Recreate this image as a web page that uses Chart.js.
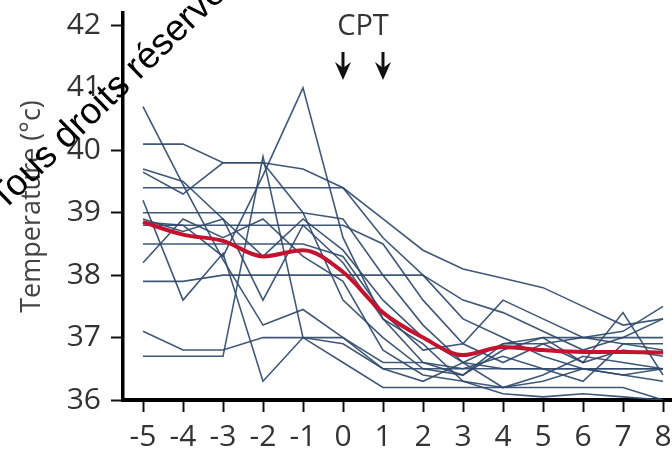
<!DOCTYPE html>
<html lang="fr">
<head>
<meta charset="utf-8" />
<title>Temperature</title>
<style>
    html, body { margin: 0; padding: 0; background: #fff; overflow: hidden; }
    #wrap { width: 700px; height: 453px; }
</style>
</head>
<body>
<div id="wrap"><canvas id="tempChart" width="700" height="453"></canvas></div>
<script src="https://cdn.jsdelivr.net/npm/chart.js@4.4.1/dist/chart.umd.min.js"></script>
<script>
    // jours autour du CPT
    const days = [-5, -4, -3, -2, -1, 0, 1, 2, 3, 4, 5, 6, 7, 8];
    const tempTicks = [36, 37, 38, 39, 40, 41, 42];

    // moyenne (courbe rouge)
    const meanTemp = [38.85, 38.65, 38.55, 38.3, 38.4, 38.05, 37.4, 37.0, 36.72, 36.85, 36.8, 36.77, 36.77, 36.76];

    // courbes individuelles
    const p01 = [40.7, 39.45, 38.25, 37.2, 37.45, 37.0, 36.6, 36.6, 36.4, 36.8, 37.0, 36.6, 37.4, 36.4];
    const p02 = [40.1, 40.1, 39.8, 39.8, 39.7, 39.4, 38.9, 38.4, 38.1, 37.95, 37.8, 37.5, 37.2, 37.3];
    const p03 = [39.4, 39.4, 39.4, 39.4, 39.4, 39.4, 38.6, 38.0, 37.6, 37.4, 37.1, 36.8, 37.0, 37.3];
    const p04 = [39.7, 39.5, 38.9, 38.3, 38.9, 38.4, 37.6, 37.0, 36.6, 36.5, 36.5, 36.5, 36.5, 36.5];
    const p05 = [39.65, 39.3, 39.8, 39.8, 39.0, 37.6, 37.0, 36.5, 36.4, 36.9, 36.9, 36.6, 36.8, 36.7];
    const p06 = [39.2, 37.6, 38.35, 36.3, 37.0, 36.9, 36.5, 36.3, 36.6, 36.2, 36.4, 36.7, 36.6, 36.5];
    const p07 = [39.0, 39.0, 39.0, 39.0, 39.0, 38.9, 38.0, 37.2, 36.6, 36.9, 37.0, 37.0, 37.0, 37.0];
    const p08 = [38.9, 38.7, 38.9, 37.6, 38.8, 38.2, 37.3, 36.6, 36.5, 36.7, 36.5, 36.3, 36.9, 36.8];
    const p09 = [38.85, 38.8, 38.3, 39.6, 41.0, 38.6, 37.3, 36.9, 36.3, 36.2, 36.3, 36.5, 36.4, 36.3];
    const p10 = [38.8, 38.8, 38.8, 38.8, 38.8, 38.8, 38.5, 37.6, 36.9, 36.6, 36.9, 37.0, 37.1, 37.5];
    const p11 = [38.5, 38.5, 38.5, 38.5, 38.5, 38.3, 37.4, 36.8, 36.9, 37.6, 37.3, 37.0, 36.9, 36.9];
    const p12 = [38.2, 38.9, 38.6, 38.9, 38.3, 37.9, 36.8, 36.4, 36.3, 36.1, 36.05, 36.1, 36.05, 36.0];
    const p13 = [37.9, 37.9, 38.0, 38.0, 38.0, 38.0, 38.0, 38.0, 37.3, 37.0, 36.7, 36.5, 36.4, 36.5];
    const p14 = [37.1, 36.8, 36.8, 37.0, 37.0, 37.0, 36.5, 36.5, 36.5, 36.5, 36.5, 36.5, 36.5, 36.5];
    const p15 = [36.7, 36.7, 36.7, 39.9, 37.0, 36.6, 36.2, 36.2, 36.2, 36.2, 36.2, 36.2, 36.2, 36.0];

    const patients = [p01, p02, p03, p04, p05, p06, p07, p08, p09, p10, p11, p12, p13, p14, p15];

    const toPoints = (vals) => vals.map((v, i) => ({ x: days[i], y: v }));

    // la courbe rouge en premier => dessinée au-dessus
    const datasets = [{
        data: toPoints(meanTemp),
        borderColor: '#c4122f',
        borderWidth: 4,
        tension: 0.4,
        cubicInterpolationMode: 'monotone',
        pointRadius: 0
    }];
    patients.forEach((p) => {
        datasets.push({
            data: toPoints(p),
            borderColor: 'rgba(48, 74, 108, 0.92)',
            borderWidth: 1.6,
            tension: 0,
            pointRadius: 0
        });
    });

    // flèches CPT + filigrane
    const annotations = {
        id: 'annotations',
        afterDraw(chart) {
            const ctx = chart.ctx;
            const xs = chart.scales.x;
            ctx.save();
            ctx.fillStyle = '#333';
            ctx.font = '29px "Open Sans"';
            ctx.textAlign = 'center';
            ctx.textBaseline = 'middle';
            ctx.fillText('CPT', xs.getPixelForValue(0.5), 27);

            ctx.fillStyle = '#111';
            ctx.strokeStyle = '#111';
            [0, 1].forEach((d) => {
                const x = xs.getPixelForValue(d);
                ctx.lineWidth = 3;
                ctx.beginPath();
                ctx.moveTo(x, 52);
                ctx.lineTo(x, 70);
                ctx.stroke();
                ctx.beginPath();
                ctx.moveTo(x, 80);
                ctx.lineTo(x - 8, 62);
                ctx.lineTo(x, 68);
                ctx.lineTo(x + 8, 62);
                ctx.closePath();
                ctx.fill();
            });

            ctx.translate(3, 212);
            ctx.rotate(-44 * Math.PI / 180);
            ctx.fillStyle = '#000';
            ctx.font = '37px "Liberation Sans"';
            ctx.textAlign = 'left';
            ctx.textBaseline = 'alphabetic';
            ctx.fillText('Tous droits réservés', 0, 0);
            ctx.restore();
        }
    };

    new Chart(document.getElementById('tempChart'), {
        type: 'line',
        data: { datasets: datasets },
        options: {
            responsive: false,
            animation: false,
            devicePixelRatio: 1,
            layout: { padding: { top: 13, right: 17, left: 0, bottom: 0 } },
            plugins: {
                legend: { display: false },
                tooltip: { enabled: false }
            },
            scales: {
                x: {
                    type: 'linear',
                    min: -5.5,
                    max: 8.5,
                    afterBuildTicks: (s) => { s.ticks = days.map((v) => ({ value: v })); },
                    afterFit: (s) => { s.height = 53; s.paddingLeft = 0; s.paddingRight = 0; },
                    grid: { drawOnChartArea: false, drawTicks: true, tickLength: 12, tickWidth: 2, tickColor: '#111' },
                    border: { display: true, color: '#000', width: 4 },
                    ticks: {
                        color: '#333',
                        padding: 7,
                        maxRotation: 0,
                        autoSkip: false,
                        font: { family: '"Open Sans"', size: 30 }
                    }
                },
                y: {
                    min: 36,
                    max: 42.2,
                    afterBuildTicks: (s) => { s.ticks = tempTicks.map((v) => ({ value: v })); },
                    afterFit: (s) => { s.width = 123; s.paddingTop = 0; s.paddingBottom = 0; },
                    grid: { drawOnChartArea: false, drawTicks: true, tickLength: 12, tickWidth: 2, tickColor: '#111' },
                    border: { display: true, color: '#000', width: 3.5 },
                    ticks: {
                        color: '#333',
                        padding: 10,
                        font: { family: '"Open Sans"', size: 30 }
                    },
                    title: {
                        display: true,
                        text: 'Temperature (°c)',
                        color: '#444',
                        padding: { top: 16, bottom: 0 },
                        font: { family: '"Open Sans"', size: 27 }
                    }
                }
            }
        },
        plugins: [annotations]
    });
</script>
</body>
</html>
